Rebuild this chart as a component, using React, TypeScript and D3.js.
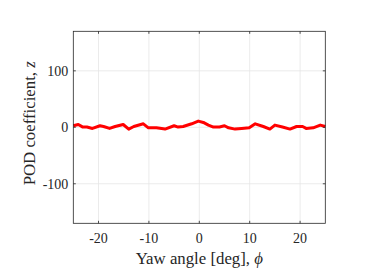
import * as d3 from "d3";

// yaw angle [deg] and POD coefficient
const yaw = [
  -25, -24, -23.1, -22.3, -21.2, -19.7, -19, -17.8, -16.7, -15.1, -14, -13,
  -11.1, -10.1, -8.5, -6.8, -5, -4.2, -3.2, -1.5, -0.2, 0.8, 1.8, 2.8, 4, 5,
  5.8, 7.1, 8.4, 9.9, 11.1, 12.7, 14, 15, 16.5, 18, 19.3, 20.5, 21.2, 22.6, 24,
  25,
];
const podCoef = [
  2.7, 5, 0.4, 0.4, -2, 2.7, 1.4, -2, 1.4, 5, -3.2, 1.4, 6.2, -0.9, -0.9, -3.2,
  2.7, 0.4, 1.4, 6.2, 11, 8.6, 3.9, 0.4, 0.4, 2.7, -0.9, -3.2, -2, -0.9, 6.2,
  1.4, -3.2, 3.9, 0.4, -3.2, 1.4, 1.4, -2, -0.9, 3.9, 1.4,
];
const xTicks = [-20, -10, 0, 10, 20];
const yTicks = [-100, 0, 100];

const W = 374;
const H = 280;
const margin = { top: 31.3, right: 48.7, bottom: 56.7, left: 73.3 };
const FONT = "Liberation Serif, Times New Roman, serif";
const AXIS = "#262626";
const GRID = "#e6e6e6";

export default function App() {
  const innerW = W - margin.left - margin.right;
  const innerH = H - margin.top - margin.bottom;

  const x = d3.scaleLinear().domain([-25, 25]).range([0, innerW]);
  const y = d3.scaleLinear().domain([-170, 170]).range([innerH, 0]);

  const line = d3
    .line<number>()
    .x((_, i) => x(yaw[i]))
    .y((d) => y(d));

  const tick = 2.5;
  const txt = { fontFamily: FONT };

  return (
    <svg
      width={W}
      height={H}
      style={{ position: "absolute", left: 0, top: 0, background: "#fff" }}
    >
      <g transform={`translate(${margin.left},${margin.top})`}>
        {/* grid */}
        {xTicks.map((t) => (
          <line key={"gx" + t} x1={x(t)} x2={x(t)} y1={0} y2={innerH} stroke={GRID} strokeWidth={0.8} />
        ))}
        {yTicks.map((t) => (
          <line key={"gy" + t} x1={0} x2={innerW} y1={y(t)} y2={y(t)} stroke={GRID} strokeWidth={0.8} />
        ))}

        {/* data */}
        <path d={line(podCoef) ?? ""} fill="none" stroke="#ff0000" strokeWidth={3} strokeLinejoin="round" />

        {/* box */}
        <rect x={0} y={0} width={innerW} height={innerH} fill="none" stroke={AXIS} strokeWidth={0.8} />

        {/* ticks */}
        {xTicks.map((t) => (
          <g key={"tx" + t}>
            <line x1={x(t)} x2={x(t)} y1={innerH} y2={innerH - tick} stroke={AXIS} strokeWidth={0.8} />
            <line x1={x(t)} x2={x(t)} y1={0} y2={tick} stroke={AXIS} strokeWidth={0.8} />
            <text x={x(t)} y={innerH + 20} textAnchor="middle" fontSize={14} fill={AXIS} style={txt}>
              {t}
            </text>
          </g>
        ))}
        {yTicks.map((t) => (
          <g key={"ty" + t}>
            <line x1={0} x2={tick} y1={y(t)} y2={y(t)} stroke={AXIS} strokeWidth={0.8} />
            <line x1={innerW} x2={innerW - tick} y1={y(t)} y2={y(t)} stroke={AXIS} strokeWidth={0.8} />
            <text x={-5} y={y(t)} dy="0.35em" textAnchor="end" fontSize={14} fill={AXIS} style={txt}>
              {t}
            </text>
          </g>
        ))}

        {/* axis labels */}
        <text x={innerW / 2} y={innerH + 40.5} textAnchor="middle" fontSize={16.8} fill={AXIS} style={txt}>
          Yaw angle [deg], <tspan fontStyle="italic">ϕ</tspan>
        </text>
        <text
          transform={`translate(${-38.5},${innerH / 2 - 4}) rotate(-90)`}
          textAnchor="middle"
          fontSize={16.8}
          fill={AXIS}
          style={txt}
        >
          POD coefficient, <tspan fontStyle="italic">z</tspan>
        </text>
      </g>
    </svg>
  );
}
